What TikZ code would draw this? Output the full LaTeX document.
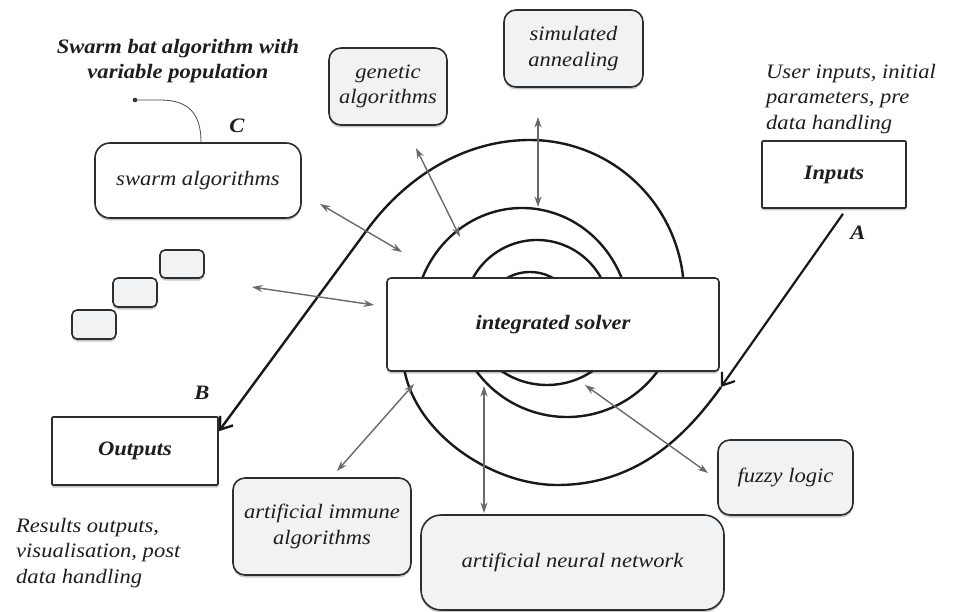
\documentclass[tikz,border=0pt]{standalone}
\usepackage{fontspec}
\setmainfont{Liberation Serif}[FakeStretch=1.1]
\usetikzlibrary{arrows.meta,shadows,calc}
\pgfdeclarelayer{bg}
\pgfsetlayers{bg,main}
\definecolor{boxgray}{RGB}{241,242,244}
\definecolor{edgec}{RGB}{45,45,45}
\definecolor{arrgray}{RGB}{105,105,105}
\definecolor{txt}{RGB}{30,30,30}
\tikzset{
  shad/.style={drop shadow={shadow xshift=0pt,shadow yshift=-2.5pt,opacity=0.22,fill=black}},
  rbox/.style={draw=edgec,line width=1.6pt,fill=boxgray,rounded corners=12pt,align=center,inner sep=0pt,shad,text=txt},
  wbox/.style={rbox,fill=white},
  sbox/.style={draw=edgec,line width=1.6pt,fill=white,rounded corners=1pt,align=center,inner sep=0pt,shad,text=txt},
  labbf/.style={font=\fontsize{20.5}{25.5}\selectfont\bfseries\itshape,text=txt},
  labit/.style={font=\fontsize{20.5}{25.5}\selectfont\itshape,text=txt},
  spiral/.style={draw=black!90,line width=2.4pt},
  barrow/.style={draw=black!90,line width=2.2pt,arrows={-Straight Barb[length=11pt,width=16pt]}},
  garrow/.style={draw=arrgray,line width=1.4pt,arrows={Stealth[length=10.5pt,width=7pt]-Stealth[length=10.5pt,width=7pt]}},
}
\begin{document}
\begin{tikzpicture}[x=1pt,y=-1pt]
\useasboundingbox (0,0) rectangle (955,612);

% boxes
\node[wbox,labit,rounded corners=15pt,minimum width=206pt,minimum height=75pt] (swarm) at (198,180.5) {swarm algorithms};
\node[rbox,rounded corners=5pt,minimum width=44pt,minimum height=28pt] (sm1) at (182,264) {};
\node[rbox,rounded corners=5pt,minimum width=44pt,minimum height=29pt] (sm2) at (135,292.5) {};
\node[rbox,rounded corners=5pt,minimum width=44pt,minimum height=29pt] (sm3) at (94,324.5) {};
\node[rbox,labit,minimum width=118pt,minimum height=77pt] (genetic) at (388,86.5) {genetic\\algorithms};
\node[rbox,labit,minimum width=139pt,minimum height=77pt] (simul) at (573.5,48.5) {simulated\\annealing};
\node[sbox,labbf,minimum width=144pt,minimum height=67pt] (inputs) at (834,174.5) {Inputs};
\node[sbox,labbf,rounded corners=4pt,minimum width=332pt,minimum height=93pt] (solver) at (553,324.5) {integrated solver};
\node[sbox,labbf,minimum width=166pt,minimum height=68pt] (outputs) at (135,451) {Outputs};
\node[rbox,labit,minimum width=178pt,minimum height=97pt] (immune) at (322,526.5) {artificial immune\\algorithms};
\node[rbox,labit,rounded corners=20pt,minimum width=303pt,minimum height=95pt] (ann) at (572.5,562.5) {artificial neural network};
\node[rbox,labit,minimum width=135pt,minimum height=75pt] (fuzzy) at (785.5,477.5) {fuzzy logic};

% labels
\node[labbf,align=center,anchor=north,inner sep=0pt] (title) at (178,39) {Swarm bat algorithm with\\variable population};
\node[labbf,inner sep=0pt] (lc) at (237,126) {C};
\node[labbf,inner sep=0pt] (la) at (858,233) {A};
\node[labbf,inner sep=0pt] (lb) at (202,393) {B};
\node[labit,align=left,anchor=north west,inner sep=0pt] (uin) at (766,64) {User inputs, initial\\parameters, pre\\data handling};
\node[labit,align=left,anchor=north west,inner sep=0pt] (res) at (16,518) {Results outputs,\\visualisation, post\\data handling};

% pointer to swarm box
\coordinate (dot) at (135,100);
\fill[black!80] (dot) circle (2.3pt);
\draw[black!70,line width=0.8pt] (dot) -- ++(25,0) .. controls (190,100) and (201,115) .. ($(swarm.north)+(3,0)$);

% spiral
\coordinate (spA) at (721,387);
\begin{pgfonlayer}{bg}
\draw[spiral] (spA) .. controls (686,436) and (637,485) .. (557,485) .. controls (490,485) and (409,430) .. (403,360);
\draw[spiral] (567,304.5) ++(150:112.5) arc[start angle=150,end angle=30,radius=112.5];
\draw[spiral] (547,304) ++(135:81) arc[start angle=135,end angle=45,radius=81];
\draw[spiral] (522,322) ++(-160:108 and 114) arc[start angle=-160,end angle=-20,x radius=108,y radius=114];
\draw[spiral] (537,313) ++(-155:73) arc[start angle=-155,end angle=-25,radius=73];
\draw[spiral] (530,319) ++(-125:47) arc[start angle=-125,end angle=-55,radius=47];
\draw[spiral,arrows={-Straight Barb[length=11pt,width=16pt]}] (530,294) ++(5:154) arc[start angle=5,end angle=-90,radius=154]
   .. controls (463,140) and (405,178) .. (367,230) -- ($(outputs.north east)+(0,15)$);
\end{pgfonlayer}
\draw[barrow] ($(inputs.south)+(9,5)$) -- (spA);

% gray double arrows
\coordinate (g1) at (416,148); \coordinate (g2) at (460,237);
\coordinate (s1) at (538,117); \coordinate (s2) at (538,207);
\coordinate (w1) at (320,204); \coordinate (w2) at (402,252);
\coordinate (m1) at (252,287); \coordinate (m2) at (374,305);
\coordinate (i1) at (337,471); \coordinate (i2) at (414,384);
\coordinate (n1) at (484,386); \coordinate (n2) at (484,513);
\coordinate (f1) at (585,385); \coordinate (f2) at (708,473);
\draw[garrow] (g1) -- (g2);
\draw[garrow] (s1) -- (s2);
\draw[garrow] (w1) -- (w2);
\draw[garrow] (m1) -- (m2);
\draw[garrow] (i1) -- (i2);
\draw[garrow] (n1) -- (n2);
\draw[garrow] (f1) -- (f2);
\end{tikzpicture}
\end{document}
